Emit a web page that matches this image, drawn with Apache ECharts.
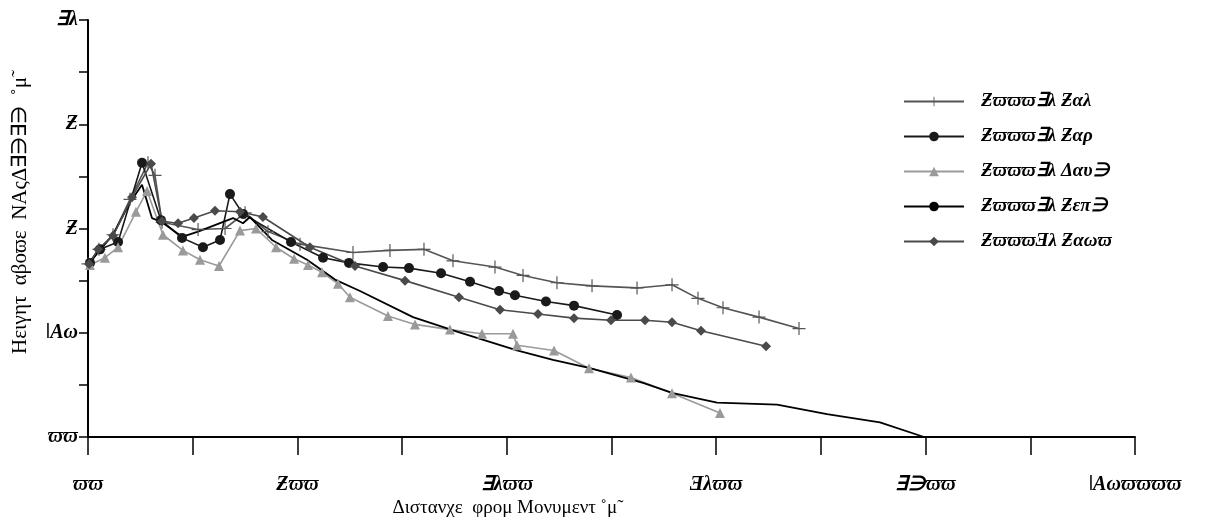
<!DOCTYPE html>
<html>
<head>
<meta charset="utf-8">
<script src="https://cdn.jsdelivr.net/npm/echarts@6/dist/echarts.min.js"></script>
<style>
html,body{margin:0;padding:0;background:#fff;}
#chart{width:1222px;height:522px;}
</style>
</head>
<body>
<div id="chart"></div>
<script>
// ---- tick labels (as printed, garbled symbol-font glyphs) ----
const xTickValues = [0, 20, 40, 60, 80, 100];
const xTickLabels = ["ϖϖ", "Ƶϖϖ", "∃λϖϖ", "Ǝλϖϖ", "∃∋ϖϖ", "ǀΑωϖϖϖϖ"];
const yTickValues = [0, 1, 2, 3, 4];
const yTickLabels = ["ϖϖ", "ǀΑω", "Ƶ", "Ƶ", "∃λ"];

const xAxisTitle = "Διστανχε  φρομ Μονυμεντ ˚μ˜";
const yAxisTitle = "Hειγητ  αβοϖε  ΝΑςΔ∃∋∃∋  ˚μ˜";

// ---- series names ----
const seriesNames = ["Ƶϖϖϖ∃λ Ƶαλ", "Ƶϖϖϖ∃λ Ƶαρ", "Ƶϖϖϖ∃λ Δαυ∋", "Ƶϖϖϖ∃λ Ƶεπ∋", "ƵϖϖϖƎλ Ƶαωϖ"];

// ---- series values: [distance, height] ----
const s1 = [[0,1.66],[1.05,1.80],[2.39,1.94],[4.01,2.28],[5.73,2.63],[6.40,2.51],[7.07,2.06],[10.51,1.99],[13.09,2.00],[15.0,2.15],[17.19,1.97],[20.25,1.85],[25.31,1.77],[28.84,1.79],[32.09,1.80],[34.86,1.69],[38.87,1.63],[41.55,1.55],[44.79,1.48],[48.14,1.45],[52.44,1.43],[55.78,1.46],[58.26,1.33],[60.65,1.24],[64.09,1.15],[67.91,1.04]];
const s2 = [[0.19,1.67],[1.15,1.80],[2.87,1.87],[5.16,2.63],[6.97,2.08],[8.98,1.91],[10.98,1.82],[12.61,1.89],[13.56,2.33],[14.80,2.14],[19.39,1.87],[22.45,1.72],[24.93,1.67],[28.18,1.63],[30.66,1.62],[33.72,1.57],[36.49,1.49],[39.26,1.40],[40.78,1.36],[43.74,1.30],[46.42,1.26],[50.53,1.17]];
const s3 = [[0.19,1.65],[1.62,1.72],[2.87,1.82],[4.58,2.16],[5.64,2.36],[7.16,1.94],[9.07,1.79],[10.70,1.70],[12.51,1.64],[14.52,1.98],[16.05,2.00],[17.96,1.82],[19.68,1.71],[21.01,1.65],[22.35,1.58],[23.88,1.47],[25.02,1.34],[28.65,1.16],[31.23,1.08],[34.57,1.03],[37.63,0.99],[40.59,0.99],[40.97,0.88],[44.51,0.83],[47.85,0.66],[51.86,0.57],[55.78,0.42],[60.36,0.23]];
const s4 = [[0.19,1.68],[2.39,1.94],[4.01,2.25],[5.16,2.42],[6.11,2.10],[7.07,2.06],[8.98,1.92],[10.51,1.97],[13.85,2.10],[14.80,2.05],[15.47,2.11],[17.57,1.89],[20.92,1.70],[23.59,1.51],[25.98,1.40],[31.04,1.15],[35.24,1.01],[40.97,0.83],[44.41,0.74],[47.95,0.66],[53.01,0.52],[55.87,0.42],[60.08,0.33],[65.81,0.31],[70.58,0.22],[75.64,0.14],[79.85,0.00]];
const s5 = [[0.10,1.66],[0.96,1.80],[2.39,1.93],[4.20,2.30],[6.02,2.62],[7.07,2.07],[8.60,2.05],[10.12,2.10],[12.13,2.17],[14.52,2.16],[16.71,2.11],[21.20,1.82],[25.50,1.64],[30.28,1.50],[35.43,1.34],[39.35,1.22],[42.98,1.18],[46.42,1.14],[49.95,1.12],[53.20,1.12],[55.78,1.10],[58.55,1.02],[64.76,0.87]];

const crossPath = 'path://M-0.09,-1 L0.09,-1 L0.09,-0.09 L1,-0.09 L1,0.09 L0.09,0.09 L0.09,1 L-0.09,1 L-0.09,0.09 L-1,0.09 L-1,-0.09 L-0.09,-0.09 Z';

const chart = echarts.init(document.getElementById('chart'), null, {renderer: 'canvas'});

function labelFor(values, labels) {
  return function (v) {
    for (let i = 0; i < values.length; i++) {
      if (Math.abs(values[i] - v) < 1e-6) return labels[i];
    }
    return '';
  };
}

const tickFont = {
  fontFamily: 'Liberation Serif',
  fontStyle: 'italic',
  fontWeight: 'bold',
  fontSize: 20,
  color: '#000'
};

function mk(name, data, color, symbol, size, width) {
  return {
    name: name,
    type: 'line',
    data: data,
    symbol: symbol,
    symbolSize: size,
    showAllSymbol: true,
    animation: false,
    lineStyle: {color: color, width: width},
    itemStyle: {color: color},
    emphasis: {disabled: true}
  };
}

chart.setOption({
  animation: false,
  backgroundColor: '#fff',
  grid: {left: 88, right: 87, top: 20, bottom: 85, containLabel: false},
  xAxis: {
    type: 'value',
    min: 0, max: 100, interval: 10,
    axisLine: {show: true, lineStyle: {color: '#000', width: 2}},
    axisTick: {show: true, length: 18, lineStyle: {color: '#000', width: 1.5}},
    splitLine: {show: false},
    axisLabel: Object.assign({margin: 38, interval: 0, formatter: labelFor(xTickValues, xTickLabels)}, tickFont)
  },
  yAxis: {
    type: 'value',
    min: 0, max: 4, interval: 0.5,
    axisLine: {show: true, lineStyle: {color: '#000', width: 2}},
    axisTick: {show: true, length: 9, lineStyle: {color: '#000', width: 1.5}},
    splitLine: {show: false},
    axisLabel: Object.assign({margin: 10, interval: 0, formatter: labelFor(yTickValues, yTickLabels)}, tickFont)
  },
  legend: {
    orient: 'vertical',
    left: 898,
    top: 87,
    itemWidth: 60,
    itemHeight: 12,
    itemGap: 16,
    textStyle: {fontFamily: 'Liberation Serif', fontWeight: 'bold', fontStyle: 'italic', fontSize: 19, color: '#000', padding: [0, 0, 0, 12]},
    data: seriesNames
  },
  graphic: [
    {type: 'text', x: 508, y: 508, style: {text: xAxisTitle, align: 'center', verticalAlign: 'middle', font: '19px "Liberation Serif"', fill: '#000'}},
    {type: 'text', rotation: Math.PI / 2, x: 20, y: 212, style: {text: yAxisTitle, align: 'center', verticalAlign: 'middle', font: '21px "Liberation Serif"', fill: '#000'}}
  ],
  series: [
    mk(seriesNames[0], s1, '#555555', crossPath, 13, 1.6),
    mk(seriesNames[1], s2, '#1a1a1a', 'circle', 10, 1.6),
    mk(seriesNames[2], s3, '#9a9a9a', 'triangle', 10, 1.6),
    mk(seriesNames[3], s4, '#000000', 'none', 0, 1.8),
    mk(seriesNames[4], s5, '#4a4a4a', 'diamond', 10, 1.6)
  ]
});
</script>
</body>
</html>
